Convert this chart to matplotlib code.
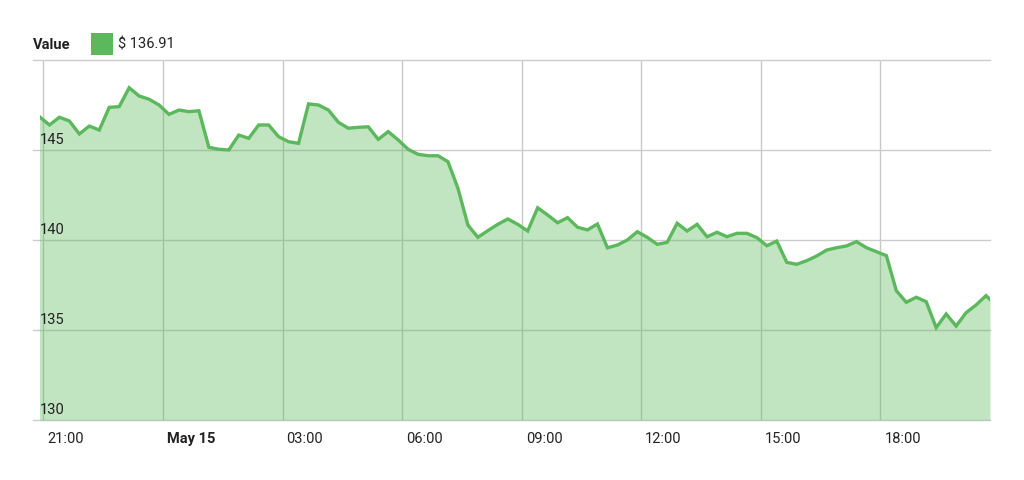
import matplotlib
matplotlib.use("Agg")
import matplotlib.pyplot as plt
import matplotlib.transforms as mtransforms
from matplotlib.patches import Rectangle
import pandas as pd

plt.rcParams['font.family'] = ['Roboto', 'DejaVu Sans']

# ---- data ----
start_time = "2018-05-14 20:54"
end_time = "2018-05-15 20:45"
values = [
    146.85, 146.39, 146.82, 146.61, 145.89, 146.33, 146.11, 147.37, 147.41, 148.46,
    148.00, 147.82, 147.50, 146.98, 147.22, 147.13, 147.18, 145.15, 145.04, 145.00,
    145.83, 145.65, 146.39, 146.39, 145.74, 145.46, 145.37, 147.56, 147.50, 147.22,
    146.54, 146.21, 146.26, 146.29, 145.59,
    146.02, 145.56, 145.04, 144.76, 144.68, 144.68, 144.35, 142.87, 140.83, 140.15,
    140.52, 140.87, 141.17, 140.87, 140.50, 141.79, 141.39, 140.96, 141.24, 140.71,
    140.56, 140.89, 139.57, 139.72, 140.00, 140.46, 140.15, 139.76, 139.87, 140.93,
    140.50, 140.87,
    140.18, 140.43, 140.18, 140.37, 140.37, 140.13, 139.68, 139.94, 138.76, 138.65,
    138.85, 139.11, 139.44, 139.57, 139.67, 139.91, 139.57, 139.35, 139.13, 137.18,
    136.54, 136.82, 136.57, 135.13, 135.89, 135.22, 135.96, 136.39, 136.91, 136.70,
]
x_ticks = ["2018-05-14 21:00", "2018-05-15 00:00", "2018-05-15 03:00", "2018-05-15 06:00",
           "2018-05-15 09:00", "2018-05-15 12:00", "2018-05-15 15:00", "2018-05-15 18:00"]
x_tick_labels = ["21:00", "May 15", "03:00", "06:00", "09:00", "12:00", "15:00", "18:00"]
y_ticks = [130, 135, 140, 145, 150]
y_tick_labels = ["130", "135", "140", "145", ""]
legend_label = "Value"
legend_value = "$ 136.91"

times = list(pd.date_range(start_time, periods=len(values) - 1, freq="15min")) + [pd.Timestamp(end_time)]
times = [t.to_pydatetime() for t in times]

line_color = "#5cb85c"
fill_color = "#5cb85c"
grid_color = "#cccccc"
text_color = "#222222"

W, H = 1024, 480
fig = plt.figure(figsize=(W / 100, H / 100), dpi=100)
left_px, right_px, top_px, bottom_px = 39.5, 990, 60, 420
ax = fig.add_axes([left_px / W, 1 - bottom_px / H, (right_px - left_px) / W, (bottom_px - top_px) / H])

ax.fill_between(times, values, 130, color=fill_color, alpha=0.38, linewidth=0, zorder=2)
ax.plot(times, values, color=line_color, linewidth=2.4, solid_joinstyle="miter", zorder=3)

ax.set_xlim(times[0], times[-1])
ax.set_ylim(130, 150)

for s in ax.spines.values():
    s.set_visible(False)

# vertical grid
tick_dt = [pd.Timestamp(t).to_pydatetime() for t in x_ticks]
for t in tick_dt:
    ax.axvline(t, color="#c8c8c8", linewidth=1, zorder=1)

# horizontal grid (extending slightly left of the plot)
trans_h = mtransforms.blended_transform_factory(ax.transAxes, ax.transData)
ext = -6.5 / (right_px - left_px)
for yv in y_ticks:
    ax.plot([ext, 1], [yv, yv], transform=trans_h, color=grid_color, linewidth=1,
            clip_on=False, zorder=1)

ax.set_xticks([])
ax.set_yticks([])

# x tick labels
trans_x = mtransforms.blended_transform_factory(ax.transData, ax.transAxes)
for t, lab in zip(tick_dt, x_tick_labels):
    off = mtransforms.ScaledTranslation(4 / 100, -12 / 100, fig.dpi_scale_trans)
    ax.text(t, 0, lab, transform=trans_x + off, ha="left", va="top", fontsize=10.5,
            color=text_color, fontweight="bold" if lab == "May 15" else "normal")

# y tick labels (inside plot, above gridline)
for yv, lab in zip(y_ticks, y_tick_labels):
    if not lab:
        continue
    off = mtransforms.ScaledTranslation(0.5 / 100, 2.5 / 100, fig.dpi_scale_trans)
    ax.text(0, yv, lab, transform=trans_h + off, ha="left", va="bottom", fontsize=10.5,
            color=text_color, zorder=4)

# legend
fig.text(33 / W, 1 - 45 / H, legend_label, fontsize=10.5, fontweight="bold",
         color=text_color, ha="left", va="center")
fig.patches.append(Rectangle((90.5 / W, 1 - 55 / H), 22 / W, 22 / H, transform=fig.transFigure,
                             facecolor="#5cb85c", edgecolor="none"))
fig.text(118 / W, 1 - 45 / H, legend_value, fontsize=10.5, color=text_color,
         ha="left", va="center")

fig.savefig("out.png", dpi=100)
